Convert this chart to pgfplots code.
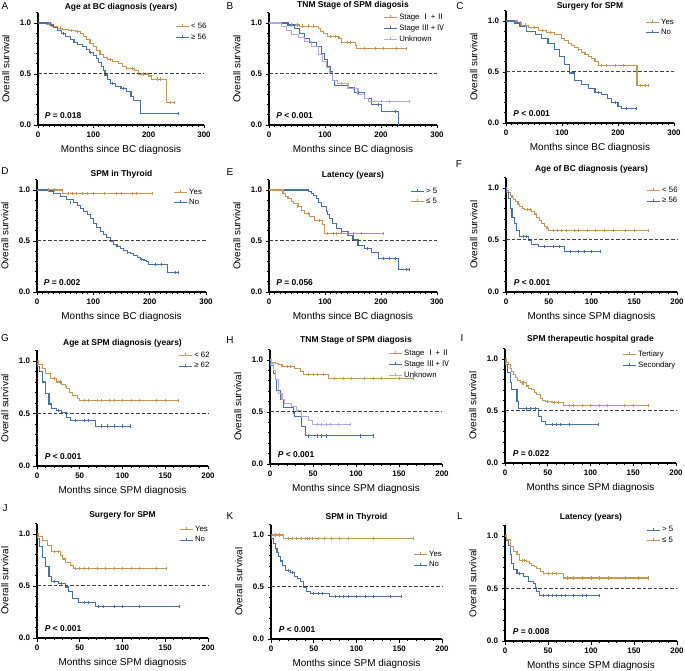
\documentclass[border=0pt]{standalone}
\usepackage{pgfplots}
\pgfplotsset{compat=1.18}
\usepackage{fontspec}
\setmainfont{Liberation Sans}
\newfontfamily\cjk{Noto Sans CJK SC}
\definecolor{cor}{RGB}{201,150,82}
\definecolor{cbl}{RGB}{70,112,166}
\definecolor{clv}{RGB}{183,164,228}
\pgfplotsset{legend image code/.code={\draw[#1,line width=1bp] (0bp,0bp) -- (13bp,0bp); \draw[#1,line width=0.6bp] (6.5bp,-0.5bp) -- (6.5bp,2.5bp);}}
\pgfplotsset{
 km/.style={scale only axis, anchor=south west, xmin=0, ymin=0, ymax=1.1,
  axis lines=left, axis line style={-, line width=1.2bp},
  ytick={0,0.5,1}, yticklabels={0.0,0.5,1.0},
  minor ytick={0.1,0.2,0.3,0.4,0.6,0.7,0.8,0.9,1.1},
  tick align=outside, major tick length=3.5bp, minor tick length=2bp,
  every tick/.style={black, line width=0.9bp},
  tick label style={font=\fontsize{8}{9}\selectfont\bfseries},
  /pgf/number format/assume math mode=true,
  ylabel={Overall survival},
  label style={font=\fontsize{8.5}{10}\selectfont\bfseries},
  every axis y label/.style={at={(axis description cs:0,0.5)}, anchor=south, xshift=-25bp, rotate=90},
  every axis x label/.style={at={(axis description cs:0.5,0)}, anchor=center, yshift=-25bp},
  every axis title/.style={at={(axis description cs:0.5,1)}, anchor=center, font=\fontsize{8.5}{10}\selectfont\bfseries},
  legend style={draw=none, fill=none, font=\fontsize{7.8}{9}\selectfont, anchor=north west, inner sep=0pt, row sep=0bp},
  legend cell align=left, clip=false},
 km300/.style={km, xmax=300, xtick={0,100,200,300}, minor x tick num=9, xlabel={Months since BC diagnosis}},
 km200/.style={km, xmax=200, xtick={0,50,100,150,200}, minor x tick num=4, xlabel={Months since SPM diagnosis}},
 or/.style={cor, line width=1.1bp, const plot, mark=none},
 bl/.style={cbl, line width=1.1bp, const plot, mark=none},
 lv/.style={clv, line width=1.1bp, const plot, mark=none},
 cens/.style={only marks, mark=|, mark size=1.6bp, mark options={line width=0.7bp}, forget plot},
 half/.style={forget plot, dash pattern=on 3.5bp off 2bp, line width=1bp, black!75},
}
\newcommand{\pv}[1]{\fontsize{8.5}{10}\selectfont\bfseries #1}
\begin{document}
\begin{tikzpicture}
% ---------- A
\begin{axis}[km300, at={(38bp,546bp)}, width=166bp, height=112.2bp, title={Age at BC diagnosis (years)}, title style={yshift=5.8bp}, legend style={at={(0.825,0.931)}}]
\addplot[or] coordinates {(0,1)(15,0.99)(25,0.97)(35,0.95)(45,0.94)(55,0.93)(68,0.92)(76,0.90)(82,0.87)(88,0.84)(94,0.80)(100,0.77)(106,0.73)(112,0.69)(118,0.66)(125,0.64)(135,0.62)(145,0.60)(152,0.57)(160,0.55)(175,0.53)(182,0.50)(200,0.48)(205,0.45)(232,0.22)(246,0.22)};
\addlegendentry{< 56}
\addplot[bl] coordinates {(0,1)(20,1)(22,0.98)(28,0.96)(35,0.93)(42,0.90)(50,0.87)(58,0.84)(65,0.81)(72,0.79)(80,0.77)(87,0.74)(93,0.71)(100,0.68)(106,0.65)(110,0.61)(114,0.57)(118,0.53)(121,0.49)(126,0.45)(131,0.41)(140,0.38)(150,0.36)(160,0.33)(168,0.28)(172,0.24)(186,0.11)(253,0.11)};
\addlegendentry{≥ 56}
\addplot[cens,cor] coordinates {(20,0.99)(40,0.95)(60,0.93)(72,0.92)(130,0.64)(160,0.55)(170,0.55)(190,0.50)(215,0.45)(222,0.45)(240,0.22)(246,0.22)};
\addplot[cens,cbl] coordinates {(45,0.90)(95,0.71)(135,0.41)(155,0.36)(253,0.11)};
\addplot[half] coordinates {(0,0.5)(300,0.5)};
\node[anchor=west] at (axis cs:6,0.09) {\pv{\textit{P} = 0.018}};
\end{axis}
% ---------- B
\begin{axis}[km300, at={(269bp,546bp)}, width=168bp, height=112.2bp, title={TNM Stage of SPM diagosis}, title style={yshift=7.8bp}, legend style={at={(0.679,1.012)}}]
\addplot[or] coordinates {(0,1)(32,1)(35,0.98)(55,0.97)(88,0.95)(92,0.92)(98,0.90)(104,0.87)(125,0.85)(130,0.81)(155,0.78)(157,0.75)(245,0.75)};
\addlegendentry{Stage {\cjk Ⅰ}\,+\,{\cjk Ⅱ}}
\addplot[bl] coordinates {(0,1)(33,1)(34,0.98)(46,0.95)(55,0.90)(64,0.85)(73,0.81)(85,0.77)(93,0.70)(99,0.64)(105,0.57)(110,0.52)(114,0.44)(117,0.39)(141,0.37)(153,0.32)(171,0.26)(183,0.20)(201,0.13)(232,0)};
\addlegendentry{Stage {\cjk Ⅲ}\,+\,{\cjk Ⅳ}}
\addplot[lv] coordinates {(0,1)(22,0.97)(31,0.93)(40,0.89)(52,0.86)(64,0.82)(76,0.77)(88,0.69)(96,0.62)(102,0.56)(108,0.51)(114,0.44)(123,0.41)(141,0.36)(159,0.30)(171,0.26)(177,0.23)(251,0.23)};
\addlegendentry{Unknown}
\addplot[cens,cor] coordinates {(40,0.98)(50,0.98)(60,0.97)(70,0.97)(80,0.97)(110,0.87)(118,0.87)(140,0.81)(145,0.81)(170,0.75)(190,0.75)(205,0.75)(228,0.75)(245,0.75)};
\addplot[cens,cbl] coordinates {(160,0.32)(195,0.20)(225,0.13)};
\addplot[cens,clv] coordinates {(130,0.41)(150,0.36)(200,0.23)(215,0.23)(251,0.23)};
\addplot[half] coordinates {(0,0.5)(300,0.5)};
\node[anchor=west] at (axis cs:7,0.09) {\pv{\textit{P} < 0.001}};
\end{axis}
% ---------- C
\begin{axis}[km300, at={(506bp,548bp)}, width=168bp, height=112.2bp, title={Surgery for SPM}, title style={yshift=4.8bp}, legend style={at={(0.827,0.949)}}]
\addplot[or] coordinates {(0,1)(19,1)(20,0.98)(28,0.96)(40,0.94)(58,0.91)(72,0.89)(87,0.87)(99,0.83)(105,0.81)(111,0.78)(117,0.76)(123,0.74)(129,0.72)(135,0.69)(141,0.67)(147,0.65)(153,0.63)(159,0.60)(165,0.56)(234,0.37)(254,0.37)};
\addlegendentry{Yes}
\addplot[bl] coordinates {(0,1)(13,1)(15,0.98)(25,0.95)(37,0.90)(52,0.87)(64,0.83)(75,0.78)(87,0.72)(96,0.65)(105,0.57)(114,0.49)(123,0.42)(135,0.38)(147,0.34)(159,0.30)(171,0.28)(182,0.24)(188,0.20)(200,0.16)(206,0.14)(233,0.14)};
\addlegendentry{No}
\addplot[cens,cor] coordinates {(25,0.98)(35,0.96)(50,0.94)(65,0.91)(80,0.89)(130,0.72)(170,0.56)(180,0.56)(195,0.56)(210,0.56)(240,0.37)(248,0.37)(254,0.37)};
\addplot[cens,cbl] coordinates {(165,0.30)(195,0.20)(215,0.14)(233,0.14)};
\addplot[half] coordinates {(0,0.5)(300,0.5)};
\node[anchor=west] at (axis cs:7,0.09) {\pv{\textit{P} < 0.001}};
\end{axis}
% ---------- D
\begin{axis}[km300, at={(37bp,379bp)}, width=169bp, height=112.2bp, title={SPM in Thyroid}, title style={yshift=5.8bp}, legend style={at={(0.805,0.94)}}]
\addplot[or] coordinates {(0,1)(44,1)(44.5,0.965)(204,0.965)};
\addlegendentry{Yes}
\addplot[bl] coordinates {(0,1)(18,1)(20,0.99)(30,0.967)(41,0.935)(53,0.91)(65,0.88)(72,0.85)(77,0.82)(83,0.79)(89,0.76)(95,0.72)(101,0.67)(106,0.63)(112,0.59)(118,0.56)(124,0.53)(130,0.50)(136,0.47)(142,0.45)(148,0.43)(154,0.41)(160,0.39)(166,0.375)(172,0.36)(178,0.34)(183,0.32)(190,0.31)(195,0.30)(198,0.27)(232,0.19)(251,0.19)};
\addlegendentry{No}
\addplot[cens,cor] coordinates {(20,1)(30,1)(55,0.965)(62,0.965)(70,0.965)(80,0.965)(90,0.965)(100,0.965)(120,0.965)(140,0.965)(150,0.965)(170,0.965)(176,0.965)(204,0.965)};
\addplot[cens,cbl] coordinates {(60,0.88)(160,0.39)(185,0.32)(210,0.27)(220,0.27)(245,0.19)(251,0.19)};
\addplot[half] coordinates {(0,0.5)(300,0.5)};
\node[anchor=west] at (axis cs:6,0.09) {\pv{\textit{P} = 0.002}};
\end{axis}
% ---------- E
\begin{axis}[km300, at={(269bp,379bp)}, width=168bp, height=112.2bp, title={Latency (years)}, title style={yshift=4.8bp}, legend style={at={(0.839,0.949)}}]
\addplot[bl] coordinates {(0,1)(67,1)(70,0.985)(76,0.97)(80,0.95)(85,0.92)(89,0.88)(93,0.84)(102,0.79)(105,0.76)(108,0.72)(114,0.67)(120,0.62)(129,0.59)(141,0.55)(150,0.51)(159,0.46)(171,0.43)(183,0.39)(195,0.33)(232,0.22)(251,0.22)};
\addlegendentry{> 5}
\addplot[or] coordinates {(0,1)(22,1)(25,0.97)(30,0.94)(34,0.92)(40,0.89)(43,0.87)(52,0.84)(58,0.80)(64,0.77)(73,0.74)(82,0.70)(96,0.66)(99,0.57)(204,0.57)};
\addlegendentry{≤ 5}
\addplot[cens,cbl] coordinates {(130,0.59)(175,0.43)(205,0.33)(215,0.33)(225,0.33)(245,0.22)(251,0.22)};
\addplot[cens,cor] coordinates {(50,0.84)(70,0.77)(90,0.70)(105,0.57)(115,0.57)(120,0.57)(140,0.57)(150,0.57)(165,0.57)(204,0.57)};
\addplot[half] coordinates {(0,0.5)(300,0.5)};
\node[anchor=west] at (axis cs:7,0.09) {\pv{\textit{P} = 0.056}};
\end{axis}
% ---------- F
\begin{axis}[km200, at={(506bp,379bp)}, width=171bp, height=114.4bp, title={Age of BC diagnosis (years)}, title style={yshift=8.6bp}, legend style={at={(0.819,0.94)}}]
\addplot[or] coordinates {(0,1)(1,0.98)(3,0.96)(5,0.93)(7,0.91)(9,0.89)(11,0.87)(14,0.84)(16,0.82)(19,0.80)(22,0.79)(30,0.77)(33,0.75)(36,0.72)(39,0.69)(42,0.66)(45,0.63)(48,0.61)(50,0.59)(167,0.59)};
\addlegendentry{< 56}
\addplot[bl] coordinates {(0,1)(1,0.96)(3,0.90)(5,0.80)(7,0.72)(10,0.66)(12,0.59)(16,0.535)(26,0.50)(30,0.46)(38,0.44)(68,0.39)(110,0.39)};
\addlegendentry{≥ 56}
\addplot[cens,cor] coordinates {(25,0.79)(28,0.79)(55,0.59)(60,0.59)(65,0.59)(70,0.59)(80,0.59)(85,0.59)(95,0.59)(105,0.59)(115,0.59)(125,0.59)(140,0.59)(150,0.59)(167,0.59)};
\addplot[cens,cbl] coordinates {(20,0.535)(24,0.535)(45,0.44)(55,0.44)(62,0.44)(75,0.39)(85,0.39)(92,0.39)(100,0.39)(110,0.39)};
\addplot[half] coordinates {(0,0.5)(200,0.5)};
\node[anchor=west] at (axis cs:5,0.09) {\pv{\textit{P} < 0.001}};
\end{axis}
% ---------- G
\begin{axis}[km200, at={(37bp,205bp)}, width=171bp, height=115.5bp, title={Age at SPM diagnosis (years)}, title style={yshift=7.5bp}, legend style={at={(0.825,1.009)}}]
\addplot[or] coordinates {(0,1)(2,0.97)(6,0.93)(10,0.88)(16,0.83)(23,0.80)(29,0.78)(33,0.76)(35,0.74)(38,0.70)(41,0.67)(47,0.64)(50,0.62)(165,0.62)};
\addlegendentry{< 62}
\addplot[bl] coordinates {(0,1)(1,0.95)(3,0.90)(6,0.80)(10,0.69)(14,0.59)(17,0.55)(23,0.53)(29,0.51)(35,0.46)(39,0.43)(68,0.38)(109,0.38)};
\addlegendentry{≥ 62}
\addplot[cens,cor] coordinates {(20,0.83)(27,0.80)(55,0.62)(60,0.62)(70,0.62)(75,0.62)(85,0.62)(90,0.62)(100,0.62)(110,0.62)(120,0.62)(140,0.62)(150,0.62)(165,0.62)};
\addplot[cens,cbl] coordinates {(25,0.53)(45,0.43)(55,0.43)(60,0.43)(75,0.38)(82,0.38)(90,0.38)(100,0.38)(109,0.38)};
\addplot[half] coordinates {(0,0.5)(200,0.5)};
\node[anchor=west] at (axis cs:5,0.09) {\pv{\textit{P} < 0.001}};
\end{axis}
% ---------- H
\begin{axis}[km200, at={(270bp,207bp)}, width=172bp, height=114.4bp, title={TNM Stage of SPM diagosis}, title style={yshift=9.6bp}, legend style={at={(0.686,1.018)}}]
\addplot[or] coordinates {(0,1)(2,0.98)(6,0.97)(10,0.96)(14,0.94)(29,0.92)(35,0.89)(39,0.86)(68,0.82)(167,0.82)};
\addlegendentry{Stage {\cjk Ⅰ}\,+\,{\cjk Ⅱ}}
\addplot[bl] coordinates {(0,1)(1,0.95)(4,0.87)(6,0.81)(8,0.71)(12,0.62)(16,0.54)(27,0.49)(29,0.46)(37,0.36)(41,0.27)(120,0.27)};
\addlegendentry{Stage {\cjk Ⅲ}\,+\,{\cjk Ⅳ}}
\addplot[lv] coordinates {(0,1)(2,0.97)(4,0.90)(6,0.81)(10,0.68)(14,0.62)(17,0.58)(25,0.55)(31,0.51)(37,0.46)(45,0.42)(49,0.38)(93,0.38)};
\addlegendentry{Unknown}
\addplot[cens,cor] coordinates {(20,0.94)(24,0.94)(45,0.86)(50,0.86)(55,0.86)(62,0.86)(75,0.82)(85,0.82)(95,0.82)(110,0.82)(120,0.82)(130,0.82)(150,0.82)(167,0.82)};
\addplot[cens,cbl] coordinates {(45,0.27)(55,0.27)(60,0.27)(65,0.27)(105,0.27)(120,0.27)};
\addplot[cens,clv] coordinates {(55,0.38)(60,0.38)(65,0.38)(70,0.38)(80,0.38)(93,0.38)};
\addplot[half] coordinates {(0,0.5)(200,0.5)};
\node[anchor=west] at (axis cs:5,0.09) {\pv{\textit{P} < 0.001}};
\end{axis}
% ---------- I
\begin{axis}[km200, at={(505bp,208bp)}, width=171bp, height=114.4bp, title={SPM therapeutic hospital grade}, title style={yshift=9.6bp}, legend style={at={(0.684,1.0)}}]
\addplot[or] coordinates {(0,1)(2,0.97)(4,0.95)(6,0.91)(8,0.88)(10,0.85)(12,0.82)(15,0.79)(18,0.77)(25,0.74)(28,0.72)(31,0.71)(34,0.68)(37,0.66)(41,0.62)(44,0.60)(47,0.59)(55,0.58)(68,0.55)(168,0.55)};
\addlegendentry{Tertiary}
\addplot[bl] coordinates {(0,1)(1,0.95)(3,0.87)(6,0.77)(8,0.71)(14,0.59)(16,0.52)(39,0.45)(43,0.40)(47,0.37)(109,0.37)};
\addlegendentry{Secondary}
\addplot[cens,cor] coordinates {(20,0.77)(22,0.77)(50,0.59)(58,0.58)(62,0.58)(75,0.55)(80,0.55)(90,0.55)(100,0.55)(110,0.55)(120,0.55)(140,0.55)(150,0.55)(168,0.55)};
\addplot[cens,cbl] coordinates {(25,0.52)(30,0.52)(35,0.52)(55,0.37)(60,0.37)(65,0.37)(75,0.37)(109,0.37)};
\addplot[half] coordinates {(0,0.5)(200,0.5)};
\node[anchor=west] at (axis cs:5,0.09) {\pv{\textit{P} = 0.022}};
\end{axis}
% ---------- J
\begin{axis}[km200, at={(37bp,33bp)}, width=171bp, height=114.4bp, title={Surgery for SPM}, title style={yshift=8.6bp}, legend style={at={(0.83,1.0)}}]
\addplot[or] coordinates {(0,1)(2,0.98)(6,0.94)(12,0.89)(17,0.83)(27,0.79)(30,0.76)(33,0.73)(39,0.70)(43,0.67)(151,0.67)};
\addlegendentry{Yes}
\addplot[bl] coordinates {(0,1)(1,0.96)(3,0.88)(6,0.77)(10,0.69)(14,0.59)(17,0.54)(25,0.52)(33,0.49)(37,0.45)(41,0.38)(49,0.34)(68,0.30)(167,0.30)};
\addlegendentry{No}
\addplot[cens,cor] coordinates {(20,0.83)(25,0.83)(45,0.67)(50,0.67)(55,0.67)(60,0.67)(70,0.67)(80,0.67)(90,0.67)(100,0.67)(110,0.67)(120,0.67)(140,0.67)(151,0.67)};
\addplot[cens,cbl] coordinates {(20,0.54)(28,0.52)(55,0.34)(60,0.34)(72,0.30)(78,0.30)(90,0.30)(100,0.30)(120,0.30)(167,0.30)};
\addplot[half] coordinates {(0,0.5)(200,0.5)};
\node[anchor=west] at (axis cs:5,0.09) {\pv{\textit{P} < 0.001}};
\end{axis}
% ---------- K
\begin{axis}[km200, at={(271bp,32bp)}, width=171bp, height=114.4bp, title={SPM in Thyroid}, title style={yshift=7.6bp}, legend style={at={(0.83,0.79)}}]
\addplot[or] coordinates {(0,1)(15,0.965)(166,0.965)};
\addlegendentry{Yes}
\addplot[bl] coordinates {(0,1)(1,0.97)(3,0.92)(5,0.87)(7,0.83)(9,0.79)(11,0.75)(13,0.71)(17,0.66)(23,0.64)(28,0.60)(31,0.58)(34,0.55)(38,0.50)(42,0.46)(46,0.44)(68,0.41)(153,0.41)};
\addlegendentry{No}
\addplot[cens,cor] coordinates {(5,1)(10,1)(20,0.965)(25,0.965)(30,0.965)(35,0.965)(40,0.965)(42,0.965)(45,0.965)(48,0.965)(55,0.965)(62,0.965)(70,0.965)(80,0.965)(90,0.965)(120,0.965)(166,0.965)};
\addplot[cens,cbl] coordinates {(20,0.66)(25,0.64)(50,0.44)(55,0.44)(60,0.44)(75,0.41)(80,0.41)(85,0.41)(90,0.41)(100,0.41)(110,0.41)(120,0.41)(140,0.41)(153,0.41)};
\addplot[half] coordinates {(0,0.5)(200,0.5)};
\node[anchor=west] at (axis cs:5,0.09) {\pv{\textit{P} < 0.001}};
\end{axis}
% ---------- L
\begin{axis}[km200, at={(505bp,30bp)}, width=172bp, height=115.5bp, title={Latency (years)}, title style={yshift=8.5bp}, legend style={at={(0.82,1.009)}}]
\addplot[bl] coordinates {(0,1)(2,0.96)(4,0.91)(6,0.82)(8,0.74)(10,0.68)(14,0.64)(21,0.61)(27,0.57)(33,0.55)(35,0.51)(37,0.47)(40,0.43)(110,0.43)};
\addlegendentry{> 5}
\addplot[or] coordinates {(0,1)(2,0.97)(6,0.90)(10,0.85)(14,0.82)(17,0.77)(25,0.76)(28,0.74)(31,0.72)(34,0.71)(37,0.69)(41,0.66)(45,0.64)(68,0.60)(167,0.60)};
\addlegendentry{≤ 5}
\addplot[cens,cbl] coordinates {(17,0.64)(45,0.43)(50,0.43)(55,0.43)(60,0.43)(65,0.43)(70,0.43)(80,0.43)(90,0.43)(95,0.43)(110,0.43)};
\addplot[cens,cor] coordinates {(20,0.77)(22,0.77)(50,0.64)(55,0.64)(60,0.64)(72,0.60)(80,0.60)(90,0.60)(100,0.60)(110,0.60)(120,0.60)(140,0.60)(155,0.60)(167,0.60)};
\addplot[half] coordinates {(0,0.5)(200,0.5)};
\node[anchor=west] at (axis cs:5,0.09) {\pv{\textit{P} = 0.008}};
\end{axis}
% panel letters
\begin{scope}[every node/.style={font=\fontsize{10}{12}\selectfont, anchor=center}]
\node at (5bp,665bp) {A}; \node at (230bp,665bp) {B}; \node at (460bp,665bp) {C};
\node at (5bp,500bp) {D}; \node at (230bp,499bp) {E}; \node at (459bp,507bp) {F};
\node at (5bp,333bp) {G}; \node at (230bp,331bp) {H}; \node at (462bp,333bp) {I};
\node at (5bp,163bp) {J}; \node at (230bp,155bp) {K}; \node at (460bp,155bp) {L};
\end{scope}
\pgfresetboundingbox
\path (0bp,0bp) rectangle (685bp,671bp);
\end{tikzpicture}
\end{document}
